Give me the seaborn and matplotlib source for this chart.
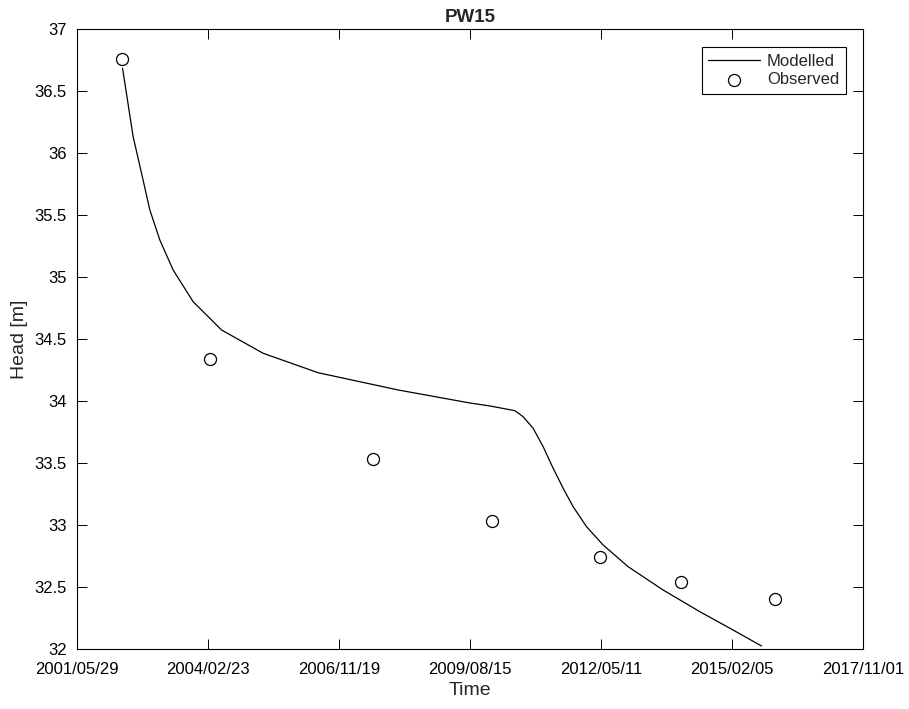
import numpy as np
import pandas as pd
import matplotlib
matplotlib.use("Agg")
import matplotlib.pyplot as plt
import matplotlib.dates as mdates
from matplotlib.ticker import FuncFormatter
import seaborn as sns

# Observed heads at well PW15
obs_dates = ["2002-05-03", "2004-03-07", "2007-08-01", "2010-01-25",
             "2012-04-29", "2014-01-07", "2015-12-26"]
obs_head = [36.76, 34.34, 33.535, 33.033, 32.742, 32.543, 32.401]

# Modelled head (time in decimal years)
mod_year = [2002.354, 2002.575, 2002.751, 2002.924, 2003.133, 2003.411, 2003.829,
            2004.423, 2005.292, 2006.442, 2008.114, 2009.612, 2010.030, 2010.553,
            2010.726, 2010.935, 2011.144, 2011.353, 2011.562, 2011.771, 2012.051,
            2012.398, 2012.921, 2013.652, 2014.419, 2015.115, 2015.709]
mod_head = [36.685, 36.133, 35.838, 35.542, 35.300, 35.058, 34.802,
            34.574, 34.386, 34.229, 34.090, 33.985, 33.961, 33.923,
            33.874, 33.781, 33.632, 33.458, 33.297, 33.148, 32.987,
            32.839, 32.664, 32.476, 32.301, 32.153, 32.024]

# Axis ticks: every 1000 days from the start date
tick_start = "2001-05-29"
tick_step_days = 1000
n_ticks = 7
y_ticks = [32, 32.5, 33, 33.5, 34, 34.5, 35, 35.5, 36, 36.5, 37]


def year_to_date(years):
    years = np.asarray(years, dtype=float)
    return pd.Timestamp("2000-01-01") + pd.to_timedelta((years - 2000.0) * 365.25, unit="D")


obs = pd.DataFrame({"Time": pd.to_datetime(obs_dates), "Head": obs_head})
mod = pd.DataFrame({"Time": year_to_date(mod_year), "Head": mod_head})

sns.set_theme(style="ticks")
plt.rcParams["font.family"] = ["Liberation Sans", "DejaVu Sans"]

fig = plt.figure(figsize=(9.09, 7.09), dpi=100)
ax = fig.add_axes([0.085, 0.0846, 0.8647, 0.8741])

sns.lineplot(data=mod, x="Time", y="Head", ax=ax, color="black",
             linewidth=0.9, label="Modelled")
sns.scatterplot(data=obs, x="Time", y="Head", ax=ax, marker="o",
                s=75, facecolor="white", edgecolor="black", linewidth=0.9,
                label="Observed", zorder=3)

ticks = pd.Timestamp(tick_start) + pd.to_timedelta(
    np.arange(n_ticks) * tick_step_days, unit="D")
ax.set_xticks(ticks)
ax.xaxis.set_major_formatter(mdates.DateFormatter("%Y/%m/%d"))
ax.set_xlim(ticks[0], ticks[-1])

ax.set_yticks(y_ticks)
ax.yaxis.set_major_formatter(FuncFormatter(lambda v, p: f"{v:g}"))
ax.set_ylim(32, 37)

ax.tick_params(direction="in", length=7, width=0.7, labelsize=12,
               top=True, right=True, colors="black")
ax.tick_params(axis="x", pad=9.5)
ax.tick_params(axis="y", pad=7.5)
for s in ax.spines.values():
    s.set_visible(True)
    s.set_linewidth(0.8)
    s.set_color("black")

ax.set_xlabel("Time", fontsize=14, labelpad=3.5)
ax.set_ylabel("Head [m]", fontsize=14, labelpad=5)
ax.set_title("PW15", fontsize=13.5, fontweight="bold", pad=5)

leg = ax.legend(loc="upper right", frameon=True, fancybox=False,
                fontsize=12, edgecolor="black", framealpha=1,
                bbox_to_anchor=(0.9776, 0.971), borderaxespad=0,
                handlelength=3.1, handletextpad=0.4,
                borderpad=0.4, labelspacing=0.2)
leg.get_frame().set_linewidth(0.8)

fig.savefig("out.png", dpi=100)
